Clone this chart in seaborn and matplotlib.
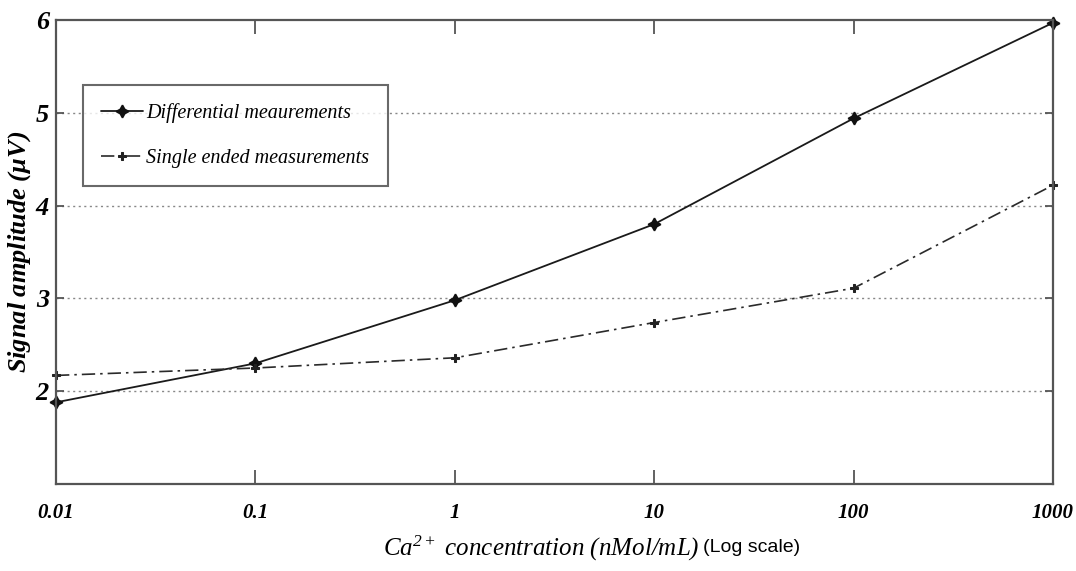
import matplotlib
matplotlib.use("Agg")
import matplotlib.pyplot as plt
import seaborn as sns
import pandas as pd
import numpy as np

concentration = [0.01, 0.1, 1, 10, 100, 1000]
differential = [1.88, 2.30, 2.98, 3.80, 4.94, 5.97]
single_ended = [2.17, 2.25, 2.36, 2.74, 3.11, 4.22]
x_ticklabels = ["0.01", "0.1", "1", "10", "100", "1000"]
y_ticks = [2, 3, 4, 5, 6]
series_names = ["Differential meaurements", "Single ended measurements"]

sns.set_theme(style="white")
plt.rcParams['font.family'] = ['Liberation Serif', 'DejaVu Serif']
plt.rcParams['mathtext.fontset'] = 'custom'
plt.rcParams['mathtext.rm'] = 'Liberation Serif:italic'
plt.rcParams['mathtext.it'] = 'Liberation Serif:italic'
plt.rcParams['mathtext.bf'] = 'Liberation Serif:italic:bold'
plt.rcParams['text.color'] = 'black'

fig = plt.figure(figsize=(10.76, 5.71), dpi=100)
ax = fig.add_axes([56/1076, 1-484/571, (1053-56)/1076, (484-20)/571])

df_d = pd.DataFrame({"x": concentration, "y": differential})
df_s = pd.DataFrame({"x": concentration, "y": single_ended})

sns.lineplot(data=df_d, x="x", y="y", ax=ax, color="#1a1a1a", lw=1.3,
             marker=(4, 1, 0), markersize=9, markeredgecolor="#111111",
             markerfacecolor="#111111", markeredgewidth=1.2,
             label=series_names[0], clip_on=False)
sns.lineplot(data=df_s, x="x", y="y", ax=ax, color="#2a2a2a", lw=1.2,
             marker="P", markersize=5.5, markeredgecolor="#222222",
             markerfacecolor="#222222", label=series_names[1], clip_on=False)
ax.lines[1].set_linestyle((0, (8, 3, 1.5, 3)))

ax.set_xscale("log")
ax.set_xlim(0.01, 1000)
ax.set_ylim(1, 6)
ax.set_xticks(concentration)
ax.set_xticklabels(x_ticklabels)
ax.xaxis.set_minor_locator(matplotlib.ticker.NullLocator())
ax.set_yticks(y_ticks)
ax.set_yticklabels([str(v) for v in y_ticks])

for yv in [2, 3, 4, 5]:
    ax.axhline(yv, color="#888888", lw=1.0, ls=(0, (1.5, 2.5)), zorder=0)

for sp in ax.spines.values():
    sp.set_color("#555555")
    sp.set_linewidth(1.6)
    sp.set_visible(True)

ax.tick_params(axis="x", which="major", direction="in", length=10, width=1.3,
               color="#555555", top=True, bottom=True, pad=14,
               labelsize=15, labelcolor="black")
ax.tick_params(axis="y", which="major", direction="in", length=6, width=1.3,
               color="#555555", left=True, right=True, pad=5,
               labelsize=19, labelcolor="black")
for lab in ax.get_xticklabels():
    lab.set_fontstyle("italic")
    lab.set_fontweight("bold")
for lab in ax.get_yticklabels():
    lab.set_fontstyle("italic")
    lab.set_fontweight("bold")

ax.set_xlabel("")
ax.set_ylabel("Signal amplitude ($\\mathbf{\\mu}$V)", fontsize=19, fontstyle="italic",
              fontweight="bold", labelpad=2, color="black")

fig.text(700/1076, 1-548/571, "Ca$^{2+}$ concentration (nMol/mL)",
         ha="right", va="center", fontsize=18, fontstyle="italic")
fig.text(703/1076, 1-548/571, "(Log scale)", ha="left", va="center",
         fontsize=14, family=["Liberation Sans", "DejaVu Sans"])

leg = ax.legend(loc="upper left", bbox_to_anchor=(27/997, (484-85)/464),
                frameon=True, fancybox=False,
                prop={"style": "italic", "size": 14.5},
                handlelength=2.1, handletextpad=0.15, borderpad=0.9,
                labelspacing=1.3, borderaxespad=0)
leg.get_frame().set_edgecolor("#444444")
leg.get_frame().set_linewidth(1.5)
for t in leg.get_texts():
    t.set_color("black")

fig.savefig("out.png", dpi=100)
